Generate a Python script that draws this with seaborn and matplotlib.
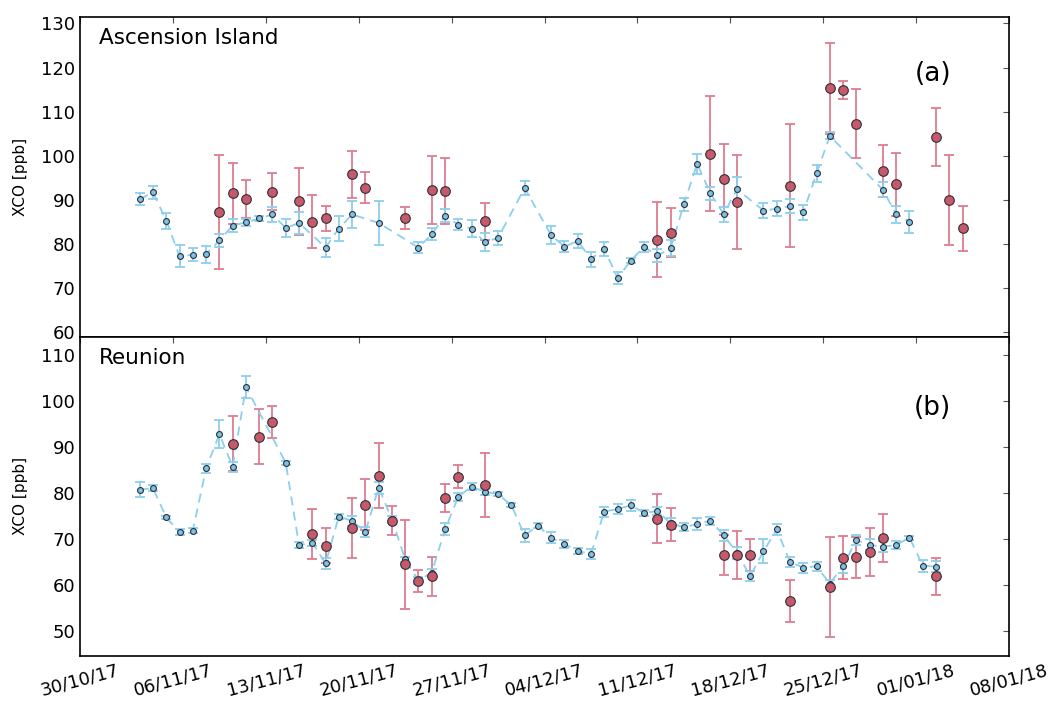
import pandas as pd
import matplotlib
matplotlib.use('Agg')
import matplotlib.pyplot as plt
import matplotlib.dates as mdates
from matplotlib.ticker import MultipleLocator
import seaborn as sns

# ---- Ascension Island ----
asc_blue_dates = ['03/11/17', '04/11/17', '05/11/17', '06/11/17', '07/11/17', '08/11/17', '09/11/17',
                  '10/11/17', '11/11/17', '12/11/17', '13/11/17', '14/11/17', '15/11/17', '17/11/17',
                  '18/11/17', '19/11/17', '21/11/17', '24/11/17', '25/11/17', '26/11/17', '27/11/17',
                  '28/11/17', '29/11/17', '30/11/17', '02/12/17', '04/12/17', '05/12/17', '06/12/17',
                  '07/12/17', '08/12/17', '09/12/17', '10/12/17', '11/12/17', '12/12/17', '13/12/17',
                  '14/12/17', '15/12/17', '16/12/17', '17/12/17', '18/12/17', '20/12/17', '21/12/17',
                  '22/12/17', '23/12/17', '24/12/17', '25/12/17', '29/12/17', '30/12/17', '31/12/17']
asc_blue_xco = [90.2, 91.7, 85.3, 77.2, 77.6, 77.7, 80.8,
                84.2, 84.9, 85.8, 86.7, 83.6, 84.8, 79.2,
                83.5, 86.7, 84.8, 79.2, 82.2, 86.4, 84.4,
                83.5, 80.4, 81.4, 92.7, 82.0, 79.4, 80.7,
                76.6, 78.9, 72.3, 76.2, 79.4, 77.4, 79.0,
                89.0, 98.2, 91.5, 86.8, 92.4, 87.6, 88.0,
                88.6, 87.2, 96.0, 104.5, 92.3, 86.7, 85.1]
asc_blue_err = [1.3, 1.5, 1.8, 2.5, 1.5, 1.9, 1.5,
                1.4, 0.8, 0.5, 1.6, 2.0, 2.5, 2.2,
                2.8, 3.1, 5.0, 1.3, 1.4, 1.5, 1.3,
                1.9, 2.0, 1.6, 1.6, 2.0, 1.3, 1.5,
                1.7, 1.6, 1.4, 0.6, 1.1, 1.4, 1.8,
                1.5, 2.3, 1.5, 1.7, 2.8, 1.7, 1.7,
                1.5, 1.7, 2.0, 0.8, 1.7, 1.9, 2.5]

asc_red_dates = ['09/11/17', '10/11/17', '11/11/17', '13/11/17', '15/11/17', '16/11/17', '17/11/17',
                 '19/11/17', '20/11/17', '23/11/17', '25/11/17', '26/11/17', '29/11/17', '12/12/17',
                 '13/12/17', '16/12/17', '17/12/17', '18/12/17', '22/12/17', '25/12/17', '26/12/17',
                 '27/12/17', '29/12/17', '30/12/17', '02/01/18', '03/01/18', '04/01/18']
asc_red_xco = [87.2, 91.5, 90.2, 91.9, 89.7, 85.1, 85.8,
               95.8, 92.8, 85.8, 92.2, 92.0, 85.2, 81.0,
               82.6, 100.5, 94.7, 89.5, 93.2, 115.3, 114.9,
               107.3, 96.5, 93.5, 104.2, 90.0, 83.6]
asc_red_err = [12.9, 6.9, 4.4, 4.2, 7.6, 6.0, 2.9,
               5.3, 3.5, 2.5, 7.7, 7.5, 4.2, 8.5,
               5.6, 13.1, 8.0, 10.6, 13.9, 10.3, 2.0,
               7.8, 5.9, 7.1, 6.6, 10.2, 5.1]

# ---- Reunion ----
reu_blue_dates = ['03/11/17', '04/11/17', '05/11/17', '06/11/17', '07/11/17', '08/11/17', '09/11/17',
                  '10/11/17', '11/11/17', '14/11/17', '15/11/17', '16/11/17', '17/11/17', '18/11/17',
                  '19/11/17', '20/11/17', '21/11/17', '22/11/17', '23/11/17', '24/11/17', '25/11/17',
                  '26/11/17', '27/11/17', '28/11/17', '29/11/17', '30/11/17', '01/12/17', '02/12/17',
                  '03/12/17', '04/12/17', '05/12/17', '06/12/17', '07/12/17', '08/12/17', '09/12/17',
                  '10/12/17', '11/12/17', '12/12/17', '13/12/17', '14/12/17', '15/12/17', '16/12/17',
                  '17/12/17', '18/12/17', '19/12/17', '20/12/17', '21/12/17', '22/12/17', '23/12/17',
                  '24/12/17', '25/12/17', '26/12/17', '27/12/17', '28/12/17', '29/12/17', '30/12/17',
                  '31/12/17', '01/01/18', '02/01/18']
reu_blue_xco = [80.75, 81.05, 74.7, 71.5, 71.85, 85.4, 92.8,
                85.75, 103.05, 86.6, 68.7, 69.2, 64.7, 74.9,
                73.95, 71.6, 81.2, 74.3, 65.6, 61.0, 62.7,
                72.1, 79.2, 81.4, 80.3, 79.75, 77.4, 70.8,
                72.95, 70.3, 68.95, 67.4, 66.8, 75.97, 76.55,
                77.35, 75.7, 76.1, 73.4, 72.6, 73.25, 74.0,
                70.85, 67.0, 62.0, 67.35, 72.1, 65.0, 63.8,
                64.1, 60.3, 64.2, 69.8, 68.75, 68.3, 68.75,
                70.3, 64.25, 64.0]
reu_blue_err = [1.6, 0.7, 0.4, 0.7, 0.6, 1.0, 3.0,
                1.1, 2.35, 0.4, 0.6, 0.6, 1.3, 0.6,
                1.0, 1.1, 1.3, 0.8, 0.6, 0.8, 0.7,
                1.3, 0.9, 0.7, 0.8, 0.4, 0.4, 1.4,
                0.6, 1.2, 0.8, 0.6, 1.1, 1.1, 1.1,
                1.2, 0.6, 0.9, 1.2, 0.9, 1.3, 0.9,
                1.2, 1.3, 1.1, 2.6, 1.2, 1.1, 1.1,
                1.0, 0.8, 1.6, 1.0, 1.2, 1.2, 0.9,
                0.4, 1.3, 1.2]

reu_red_dates = ['10/11/17', '12/11/17', '13/11/17', '16/11/17', '17/11/17', '19/11/17', '20/11/17',
                 '21/11/17', '22/11/17', '23/11/17', '24/11/17', '25/11/17', '26/11/17', '27/11/17',
                 '29/11/17', '12/12/17', '13/12/17', '17/12/17', '18/12/17', '19/12/17', '22/12/17',
                 '25/12/17', '26/12/17', '27/12/17', '28/12/17', '29/12/17', '02/01/18']
reu_red_xco = [90.7, 92.3, 95.45, 71.1, 68.6, 72.4, 77.5,
               83.8, 74.0, 64.5, 60.9, 61.9, 78.9, 83.5,
               81.8, 74.45, 73.1, 66.5, 66.5, 66.5, 56.5,
               59.6, 66.0, 66.1, 67.15, 70.3, 61.95]
reu_red_err = [6.0, 6.0, 3.55, 5.4, 3.8, 6.45, 5.6,
               7.1, 3.1, 9.7, 2.3, 4.3, 3.0, 2.5,
               6.9, 5.3, 3.6, 4.4, 5.25, 3.45, 4.56,
               10.9, 4.6, 4.45, 5.2, 5.2, 4.05]

BLUE_LINE = '#8ccfee'
BLUE_FILL = '#7cc3e6'
RED_BAR = '#dc7d90'
RED_FILL = '#c75a6a'
EDGE = '#2e2e38'


def to_dt(days):
    # observations are daily means, plotted at midday
    return pd.to_datetime(days, format='%d/%m/%y') + pd.Timedelta(hours=12)


def panel(ax, bd, bv, be, rd, rv, re, site, tag, tag_y):
    bx = to_dt(bd)
    rx = to_dt(rd)
    ax.errorbar(rx, rv, yerr=re, fmt='none', ecolor=RED_BAR, elinewidth=1.3,
                capsize=3.5, capthick=1.3, zorder=1)
    ax.errorbar(bx, bv, yerr=be, fmt='none', ecolor=BLUE_LINE, elinewidth=1.3,
                capsize=3.5, capthick=1.3, zorder=2)
    sns.lineplot(x=bx, y=bv, ax=ax, color=BLUE_LINE, linewidth=1.3, linestyle='--', zorder=2)
    ax.lines[-1].set_dashes((5, 3.5))
    sns.scatterplot(x=bx, y=bv, ax=ax, s=18, color=BLUE_FILL, edgecolor=EDGE,
                    linewidth=0.8, zorder=4)
    sns.scatterplot(x=rx, y=rv, ax=ax, s=48, color=RED_FILL, edgecolor=EDGE,
                    linewidth=0.8, zorder=5)
    ax.text(0.02, 0.965, site, transform=ax.transAxes, ha='left', va='top',
            fontsize=15.5, color='black')
    ax.text(0.918, tag_y, tag, transform=ax.transAxes, ha='center', va='center',
            fontsize=19, color='black')
    ax.set_ylabel('XCO [ppb]', fontsize=11, color='black')
    ax.yaxis.set_label_coords(-0.056, 0.5)
    ax.set_xlabel('')
    ax.yaxis.set_major_locator(MultipleLocator(10))
    ax.tick_params(direction='in', top=True, right=True, length=4, width=0.8,
                   labelsize=13, colors='#555555', labelcolor='black')
    for sp in ax.spines.values():
        sp.set_linewidth(1.2)
        sp.set_color('black')


sns.set_style('white')
plt.rcParams['font.family'] = ['DejaVu Sans']
plt.rcParams['text.color'] = 'black'
plt.rcParams['axes.labelcolor'] = 'black'

fig, (ax1, ax2) = plt.subplots(2, 1, figsize=(10.56, 7.04), dpi=100, sharex=True)
fig.subplots_adjust(left=0.0758, right=0.9555, top=0.9754, bottom=0.0682, hspace=0)

panel(ax1, asc_blue_dates, asc_blue_xco, asc_blue_err,
      asc_red_dates, asc_red_xco, asc_red_err, 'Ascension Island', '(a)', 0.822)
panel(ax2, reu_blue_dates, reu_blue_xco, reu_blue_err,
      reu_red_dates, reu_red_xco, reu_red_err, 'Reunion', '(b)', 0.777)

ax1.set_ylim(59, 131.4)
ax2.set_ylim(44.6, 114)
ax2.set_xlim(pd.Timestamp('2017-10-30'), pd.Timestamp('2018-01-08'))
ax2.xaxis.set_major_locator(mdates.WeekdayLocator(byweekday=mdates.MO))
ax2.xaxis.set_major_formatter(mdates.DateFormatter('%d/%m/%y'))
for lab in ax2.get_xticklabels():
    lab.set_rotation(15)
    lab.set_ha('center')
ax1.tick_params(labelbottom=False)

fig.savefig('out.png', dpi=100)
